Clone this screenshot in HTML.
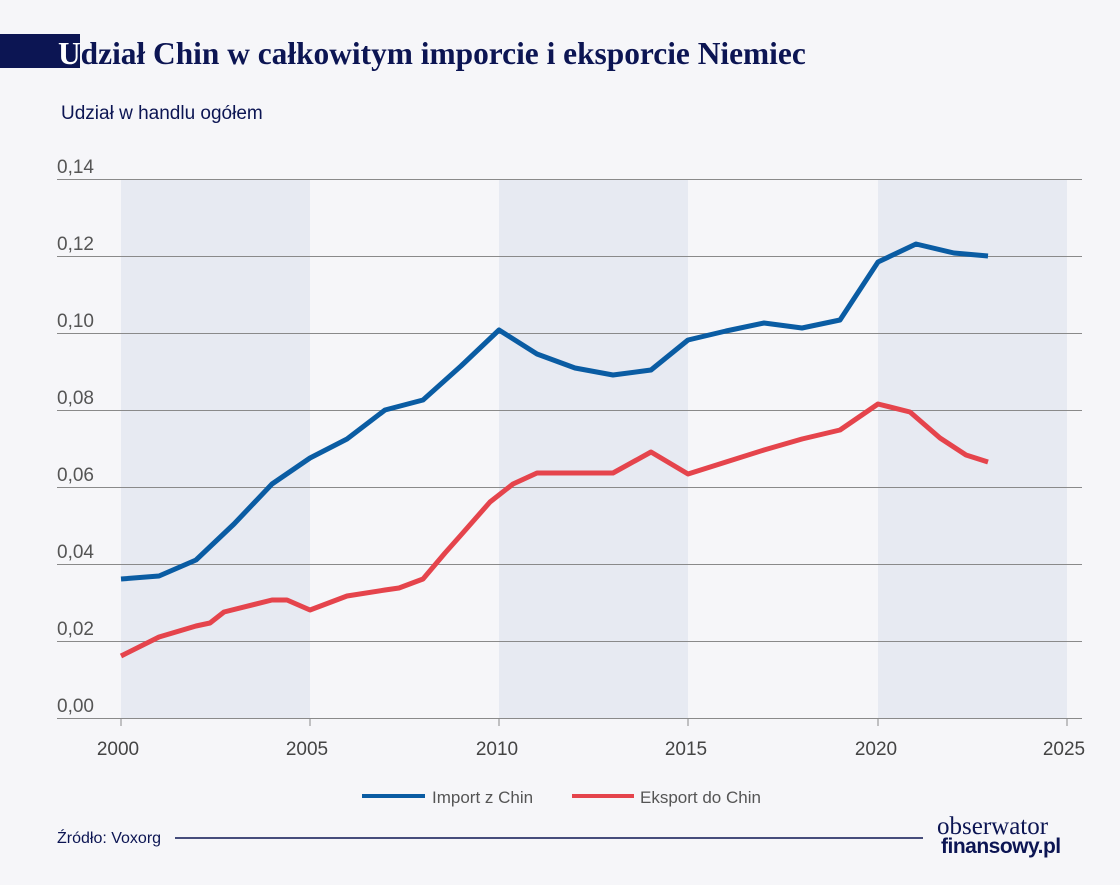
<!DOCTYPE html>
<html><head><meta charset="utf-8"><style>
body{margin:0;width:1120px;height:880px;background:#f6f6f9;overflow:hidden;font-family:"Liberation Sans",sans-serif}
</style></head><body>
<svg width="1120" height="880" xmlns="http://www.w3.org/2000/svg">
<rect x="0" y="34" width="80" height="34" fill="#0c1553"/>
<text x="58" y="64" font-family="Liberation Serif,serif" font-weight="bold" font-size="31.4" fill="#0c1553"><tspan fill="#fff">U</tspan>dział Chin w całkowitym imporcie i eksporcie Niemiec</text>
<text x="61" y="119" font-size="19" fill="#0c1553">Udział w handlu ogółem</text>
<g fill="#e7eaf2">
<rect x="121" y="179" width="189" height="539"/><rect x="499" y="179" width="189" height="539"/><rect x="878" y="179" width="189" height="539"/>
</g>
<g stroke="#8a8a8a" stroke-width="1">
<line x1="57" y1="179.5" x2="1082" y2="179.5"/><line x1="57" y1="256.5" x2="1082" y2="256.5"/><line x1="57" y1="333.5" x2="1082" y2="333.5"/><line x1="57" y1="410.5" x2="1082" y2="410.5"/><line x1="57" y1="487.5" x2="1082" y2="487.5"/><line x1="57" y1="564.5" x2="1082" y2="564.5"/><line x1="57" y1="641.5" x2="1082" y2="641.5"/><line x1="57" y1="718.5" x2="1082" y2="718.5"/>
<line x1="121" y1="718" x2="121" y2="726"/><line x1="310" y1="718" x2="310" y2="726"/><line x1="499" y1="718" x2="499" y2="726"/><line x1="688" y1="718" x2="688" y2="726"/><line x1="878" y1="718" x2="878" y2="726"/><line x1="1067" y1="718" x2="1067" y2="726"/>
</g>
<g font-size="19" fill="#555">
<text x="57" y="173">0,14</text><text x="57" y="250">0,12</text><text x="57" y="327">0,10</text><text x="57" y="404">0,08</text><text x="57" y="481">0,06</text><text x="57" y="558">0,04</text><text x="57" y="635">0,02</text><text x="57" y="712">0,00</text>
</g>
<g font-size="19" fill="#444" text-anchor="middle">
<text x="118" y="755">2000</text><text x="307" y="755">2005</text><text x="497" y="755">2010</text><text x="686" y="755">2015</text><text x="876" y="755">2020</text><text x="1064" y="755">2025</text>
</g>
<polyline fill="none" stroke="#0a5ca3" stroke-width="5" stroke-linejoin="round" points="121,579 159,576 196,560 234,524 272,484 310,458 347,439 385,410 423,400 461,366 499,330 537,354 575,368 613,375 651,370 688,340 726,331 764,323 802,328 840,320 878,262 916,244 954,253 988,256"/>
<polyline fill="none" stroke="#e5444c" stroke-width="5" stroke-linejoin="round" points="121,656 159,637 196,626 210,623 224,612 272,600 287,600 310,610 347,596 385,590 399,588 423,579 445,553 461,535 490,502 513,484 537,473 575,473 613,473 651,452 688,474 726,462 764,450 802,439 840,430 878,404 910,412 940,438 966,455 988,462"/>
<line x1="362" y1="796" x2="425" y2="796" stroke="#0a5ca3" stroke-width="4"/>
<text x="432" y="803" font-size="17" fill="#555">Import z Chin</text>
<line x1="572" y1="796" x2="634" y2="796" stroke="#e5444c" stroke-width="4"/>
<text x="640" y="803" font-size="17" fill="#555">Eksport do Chin</text>
<text x="57" y="843" font-size="16" fill="#0c1553">Źródło: Voxorg</text>
<line x1="175" y1="838" x2="923" y2="838" stroke="#0c1553" stroke-width="1.5"/>
<text x="937" y="834" font-family="Liberation Serif,serif" font-size="25" fill="#0c1553">obserwator</text>
<text x="941" y="853" font-weight="bold" font-size="21" fill="#0c1553" letter-spacing="-0.5">finansowy.pl</text>
</svg>
</body></html>
